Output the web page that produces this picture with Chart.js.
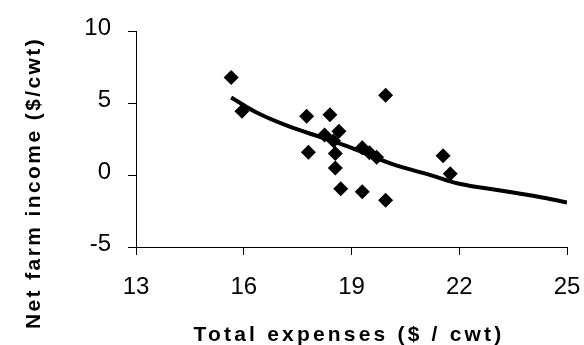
<!DOCTYPE html>
<html>
<head>
<meta charset="utf-8">
<script src="https://cdn.jsdelivr.net/npm/chart.js@4.4.1/dist/chart.umd.min.js"></script>
<style>
  html, body { margin: 0; padding: 0; background: #fff; }
</style>
</head>
<body>
<canvas id="chart" width="584" height="345"></canvas>
<script>
// observed farms
const expenses = [15.65, 15.95, 17.75, 17.8, 18.4, 18.25, 18.65, 18.5, 18.55, 18.55, 18.7, 19.3, 19.95, 19.95, 19.3, 19.5, 19.7, 21.55, 21.75];
const income   = [6.8, 4.45, 4.1, 1.6, 4.2, 2.8, 3.05, 2.4, 1.5, 0.5, -0.95, -1.15, -1.75, 5.55, 1.9, 1.55, 1.25, 1.35, 0.1];

// trend curve
const trendX = [15.65, 16.4, 17.3, 18.2, 19.0, 20.1, 21.2, 22.0, 23.1, 24.2, 25.0];
const trendY = [5.4, 4.3, 3.35, 2.6, 1.9, 0.8, 0.0, -0.6, -1.05, -1.5, -1.9];

const xTicks = [13, 16, 19, 22, 25];
const yTicks = [-5, 0, 5, 10];

const xTitle = 'Total expenses ($ / cwt)';
const yTitle = 'Net farm income ($/cwt)';

const tickFont = { family: '"Liberation Sans", Arial, sans-serif', size: 24 };

// Chart.js titles can't do letter spacing, so draw them here
const axisTitles = {
    id: 'axisTitles',
    afterDraw(chart) {
        const ctx = chart.ctx;
        ctx.save();
        ctx.fillStyle = '#000';
        ctx.font = 'bold 21px "Liberation Sans", Arial, sans-serif';
        ctx.textAlign = 'center';
        ctx.textBaseline = 'alphabetic';
        ctx.letterSpacing = '3.2px';
        ctx.fillText(xTitle, 349, 341);
        ctx.letterSpacing = '2.4px';
        ctx.translate(40, 183);
        ctx.rotate(-Math.PI / 2);
        ctx.fillText(yTitle, 0, 0);
        ctx.restore();
    }
};

new Chart(document.getElementById('chart'), {
    type: 'scatter',
    data: {
        datasets: [
            {
                label: 'Farms',
                data: expenses.map((x, i) => ({ x, y: income[i] })),
                pointStyle: 'rectRot',
                pointRadius: 7.5,
                pointHoverRadius: 7.5,
                backgroundColor: '#000',
                borderColor: '#000',
                borderWidth: 0
            },
            {
                label: 'Trend',
                data: trendX.map((x, i) => ({ x, y: trendY[i] })),
                showLine: true,
                pointRadius: 0,
                borderColor: '#000',
                borderWidth: 4,
                tension: 0.4,
                fill: false
            }
        ]
    },
    options: {
        responsive: false,
        animation: false,
        devicePixelRatio: 1,
        layout: { padding: { left: 0, right: 17, top: 28, bottom: 0 } },
        plugins: {
            legend: { display: false },
            tooltip: { enabled: false }
        },
        scales: {
            x: {
                type: 'linear',
                min: 13,
                max: 25,
                afterBuildTicks: s => { s.ticks = xTicks.map(v => ({ value: v })); },
                // tick padding would otherwise push the plot in from the sides
                afterFit: s => { s.height = 98; s.paddingLeft = 0; s.paddingRight = 0; },
                grid: { drawOnChartArea: false, drawTicks: true, tickLength: 8, color: '#000' },
                border: { display: true, color: '#000', width: 1 },
                ticks: { color: '#000', font: tickFont, padding: 18, maxRotation: 0 }
            },
            y: {
                min: -5,
                max: 10,
                afterBuildTicks: s => { s.ticks = yTicks.map(v => ({ value: v })); },
                afterFit: s => { s.width = 136; },
                grid: { drawOnChartArea: false, drawTicks: true, tickLength: 8, color: '#000' },
                border: { display: true, color: '#000', width: 1 },
                ticks: { color: '#000', font: tickFont, padding: 17, labelOffset: -3 }
            }
        }
    },
    plugins: [axisTitles]
});
</script>
</body>
</html>
